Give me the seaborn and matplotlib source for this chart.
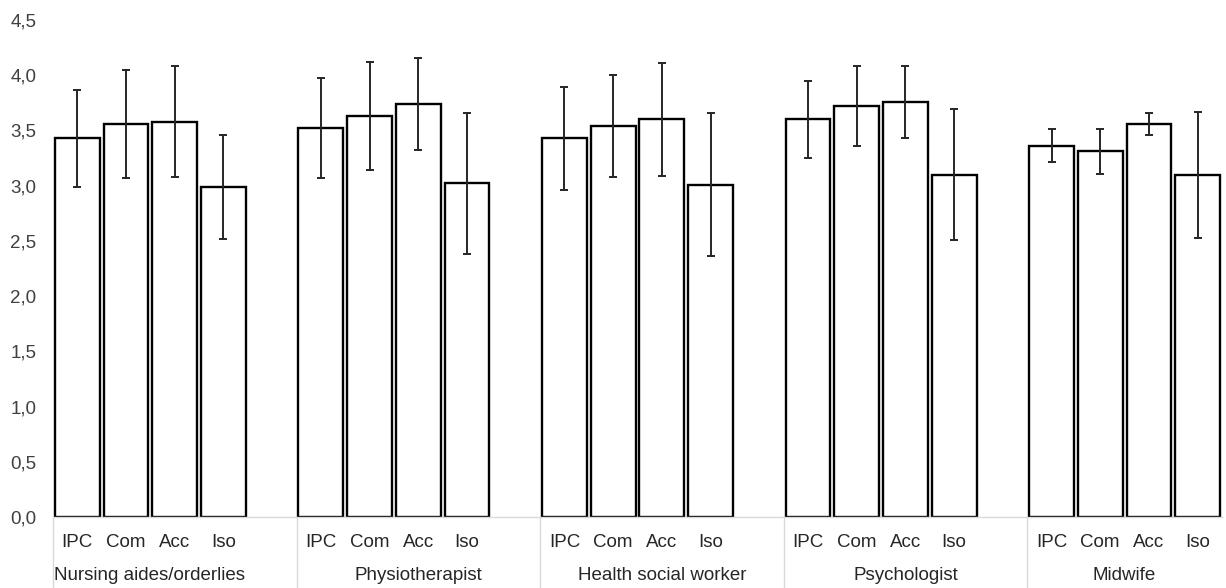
import numpy as np
import pandas as pd
import matplotlib
matplotlib.use("Agg")
import matplotlib.pyplot as plt
import matplotlib.transforms as mtrans
from matplotlib.ticker import FuncFormatter
import seaborn as sns

# ---- data ----
groups = ["Nursing aides/orderlies", "Physiotherapist", "Health social worker",
          "Psychologist", "Midwife"]
measures = ["IPC", "Com", "Acc", "Iso"]

mean_nursing = [3.43, 3.56, 3.58, 2.99]
mean_physio = [3.52, 3.63, 3.74, 3.02]
mean_hsw = [3.43, 3.54, 3.60, 3.01]
mean_psych = [3.60, 3.72, 3.76, 3.10]
mean_midwife = [3.36, 3.31, 3.56, 3.10]

sd_nursing = [0.44, 0.49, 0.50, 0.47]
sd_physio = [0.455, 0.49, 0.42, 0.64]
sd_hsw = [0.465, 0.465, 0.515, 0.65]
sd_psych = [0.345, 0.365, 0.325, 0.595]
sd_midwife = [0.15, 0.20, 0.10, 0.57]

yticks = [0.0, 0.5, 1.0, 1.5, 2.0, 2.5, 3.0, 3.5, 4.0, 4.5]

means = [mean_nursing, mean_physio, mean_hsw, mean_psych, mean_midwife]
sds = [sd_nursing, sd_physio, sd_hsw, sd_psych, sd_midwife]

rows = []
for g, grp in enumerate(groups):
    for m, meas in enumerate(measures):
        rows.append({"group": grp, "measure": meas,
                     "pos": 5 * g + m + 0.5,
                     "value": means[g][m], "sd": sds[g][m]})
df = pd.DataFrame(rows)

# ---- figure ----
sns.set_theme(style="white")
plt.rcParams["font.family"] = ["Liberation Sans", "DejaVu Sans"]

FS = 13.5
W, H = 1226, 588
fig = plt.figure(figsize=(W / 100, H / 100), dpi=100)
left_px, right_px, top_px, bottom_px = 53, 1222, 20, 517
ax = fig.add_axes([left_px / W, (H - bottom_px) / H,
                   (right_px - left_px) / W, (bottom_px - top_px) / H])

sns.barplot(data=df, x="pos", y="value", native_scale=True, width=0.92,
            color="white", edgecolor="black", linewidth=1.7, errorbar=None,
            ax=ax)

ax.errorbar(df["pos"], df["value"], yerr=df["sd"], fmt="none",
            ecolor="#262626", elinewidth=1.4, capsize=3.0, capthick=1.4,
            zorder=5)

ax.set_xlim(0, 24)
ax.set_ylim(0, 4.5)
ax.set_yticks(yticks)
ax.yaxis.set_major_formatter(FuncFormatter(lambda v, p: f"{v:.1f}".replace(".", ",")))
ax.tick_params(axis="y", length=0, pad=12, labelsize=FS, labelcolor="#404040")

ax.set_xticks(df["pos"])
ax.set_xticklabels(df["measure"])
ax.tick_params(axis="x", length=0, pad=12.5, labelsize=FS, labelcolor="#262626")
ax.set_xlabel("")
ax.set_ylabel("")

for s in ["top", "right", "left"]:
    ax.spines[s].set_visible(False)
ax.spines["bottom"].set_color("#d9d9d9")
ax.spines["bottom"].set_linewidth(1.0)

# group separators
trans = mtrans.blended_transform_factory(ax.transData, ax.transAxes)
sep_bottom = -(H - bottom_px) / (bottom_px - top_px)
ax.vlines([5 * g for g in range(len(groups))], sep_bottom, 0, transform=trans,
          colors="#d9d9d9", linewidth=1.0, clip_on=False)

# group labels
trans_fig = mtrans.blended_transform_factory(ax.transData, fig.transFigure)
label_y = (H - 576) / H
for g, grp in enumerate(groups):
    if g == 0:
        ax.text(0.02, label_y, grp, transform=trans_fig, ha="left", va="center",
                fontsize=FS, color="#262626")
    elif g == len(groups) - 1:
        ax.text(5 * g + 2, label_y, grp, transform=trans_fig, ha="center",
                va="center", fontsize=FS, color="#262626")
    else:
        ax.text(5 * g + 2.5, label_y, grp, transform=trans_fig, ha="center",
                va="center", fontsize=FS, color="#262626")

fig.savefig("out.png", dpi=100)
